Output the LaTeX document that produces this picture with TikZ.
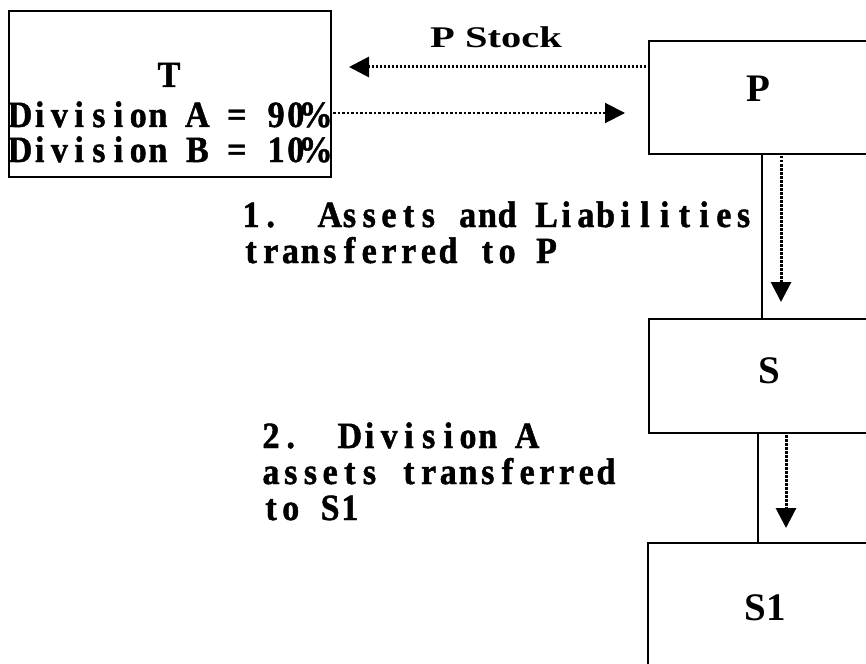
\documentclass[tikz,border=0pt]{standalone}
\usepackage{fontspec}
\setmainfont{Liberation Serif}
\newfontfamily\monofnt[FakeStretch=0.92,FakeBold=1.2]{Liberation Serif Bold}
\newfontfamily\stockfnt[FakeStretch=1.35]{Liberation Serif Bold}
\newfontfamily\boxfnt{Liberation Serif Bold}
\usetikzlibrary{arrows.meta,calc}
\newlength\cellw
\setlength\cellw{19.7pt}
\makeatletter
\newcommand\monoline[1]{\@tfor\my@ch:=#1\do{\makebox[\cellw][c]{\my@ch}}}
\makeatother
\tikzset{
  boxnode/.style={draw, line width=2pt, inner sep=0pt, anchor=north west},
  monotxt/.style={inner sep=0pt, anchor=base west, font=\monofnt\fontsize{37pt}{37pt}\selectfont},
  boxlabel/.style={inner sep=0pt, anchor=base, font=\boxfnt\fontsize{39pt}{39pt}\selectfont},
  solidline/.style={line width=2pt},
  dotarrowthick/.style={line width=3pt, dash pattern=on 2.5pt off 1.5pt, -{Triangle[length=20pt,width=20pt]}},
  dotarrowthin/.style={line width=2pt, dash pattern=on 2.5pt off 2pt, -{Triangle[length=20pt,width=20pt]}}
}
\begin{document}
\begin{tikzpicture}[x=1pt,y=-1pt]
\useasboundingbox (0,0) rectangle (866,663);
\clip (0,0) rectangle (866,663);
\fill[white] (0,0) rectangle (866,663);
% boxes
\node[boxnode, minimum width=322pt, minimum height=166pt] (T) at (8,10) {};
\node[boxnode, minimum width=222pt, minimum height=113pt] (P) at (648,40) {};
\node[boxnode, minimum width=222pt, minimum height=114pt] (S) at (648,318) {};
\node[boxnode, minimum width=222pt, minimum height=140pt] (S1) at (647,542) {};
% texts in T
\node[monotxt, anchor=base] (Ttitle) at (169,87) {\monoline{T}};
\node[monotxt] (TlineA) at (10,127) {\monoline{Division~A~=~90\%}};
\node[monotxt] (TlineB) at (10,162) {\monoline{Division~B~=~10\%}};
% box labels
\node[boxlabel] (Plabel) at (758,102) {P};
\node[boxlabel] (Slabel) at (769,383) {S};
\node[boxlabel] (S1label) at (765,620) {S1};
% P Stock
\node[inner sep=0pt, anchor=base west, font=\stockfnt\fontsize{30pt}{30pt}\selectfont] (stock) at (430,48) {P Stock};
% step labels
\node[monotxt] (st1a) at (241,227) {\monoline{1.~~Assets~and~Liabilities}};
\node[monotxt] (st1b) at (241,263) {\monoline{transferred~to~P}};
\node[monotxt] (st2a) at (261,448) {\monoline{2.~~Division~A}};
\node[monotxt] (st2b) at (261,484) {\monoline{assets~transferred}};
\node[monotxt] (st2c) at (261,520) {\monoline{to~S1}};
% connectors
\draw[dotarrowthick] ($(P.north west)+(2,27)$) -- ($(T.north east)+(17,57)$);
\draw[dotarrowthin] ($(T.north east)+(1,103)$) -- ($(P.north west)+(-23,73)$);
\draw[solidline] ($(P.south west)+(114,0)$) -- ($(S.north west)+(114,0)$);
\draw[dotarrowthick] ($(P.south west)+(133,1)$) -- ($(S.north west)+(133,-16)$);
\draw[solidline] ($(S.south west)+(110,0)$) -- ($(S1.north west)+(111,0)$);
\draw[dotarrowthick] ($(S.south west)+(138,1)$) -- ($(S1.north west)+(139,-14)$);
\end{tikzpicture}
\end{document}
